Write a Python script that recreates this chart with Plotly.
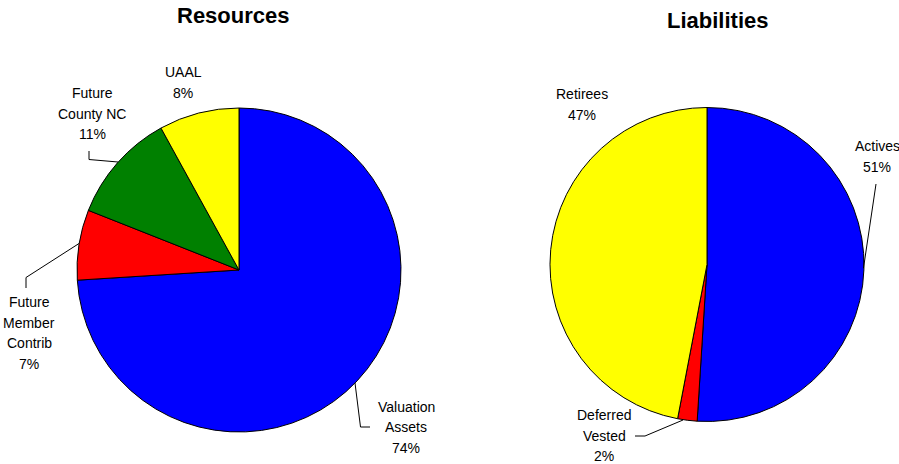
import plotly.graph_objects as go

# ---- data ----
res_labels = ["Valuation\nAssets", "Future\nMember\nContrib", "Future\nCounty NC", "UAAL"]
res_values = [74, 7, 11, 8]
res_colors = ["#0000FF", "#FF0000", "#008000", "#FFFF00"]

liab_labels = ["Actives", "Deferred\nVested", "Retirees"]
liab_values = [51, 2, 47]
liab_colors = ["#0000FF", "#FF0000", "#FFFF00"]

W, H = 899, 464
FONT = "Liberation Sans, Arial, sans-serif"


def px(x):
    return x / W


def py(y):
    return 1 - y / H


fig = go.Figure()

fig.add_trace(go.Pie(
    labels=[l.replace("\n", " ") for l in res_labels], values=res_values,
    sort=False, direction="clockwise", rotation=0,
    marker=dict(colors=res_colors, line=dict(color="black", width=1)),
    textinfo="none", hoverinfo="label+percent", showlegend=False,
    domain=dict(x=[px(77), px(401)], y=[py(432), py(108)]),
))
fig.add_trace(go.Pie(
    labels=[l.replace("\n", " ") for l in liab_labels], values=liab_values,
    sort=False, direction="clockwise", rotation=0,
    marker=dict(colors=liab_colors, line=dict(color="black", width=1)),
    textinfo="none", hoverinfo="label+percent", showlegend=False,
    domain=dict(x=[px(550), px(864)], y=[py(421.5), py(107.5)]),
))

# label placement (layout only): centre x, first-line centre y
res_label_pos = [(406, 406.5), (29, 302), (92, 93), (183, 72)]
liab_label_pos = [(877, 146), (604, 415), (582, 94)]
LINE_GAP = 20.7

annotations = []


def add_labels(labels, values, positions):
    for lab, val, (cx, cy) in zip(labels, values, positions):
        lines = lab.split("\n") + [f"{val}%"]
        for i, t in enumerate(lines):
            annotations.append(dict(
                text=t, x=px(cx), y=py(cy + i * LINE_GAP), xref="paper", yref="paper",
                xanchor="center", yanchor="middle", showarrow=False,
                font=dict(family=FONT, size=14, color="black"),
            ))


add_labels(res_labels, res_values, res_label_pos)
add_labels(liab_labels, liab_values, liab_label_pos)

annotations.append(dict(text="<b>Resources</b>", x=px(234), y=py(15), xref="paper", yref="paper",
                        xanchor="center", yanchor="middle", showarrow=False,
                        font=dict(family=FONT, size=22, color="black")))
annotations.append(dict(text="<b>Liabilities</b>", x=px(717), y=py(20.5), xref="paper", yref="paper",
                        xanchor="center", yanchor="middle", showarrow=False,
                        font=dict(family=FONT, size=22, color="black")))

# leader lines (layout only)
leaders = [
    [(89, 151), (89, 159.5), (118, 162)],
    [(26, 288), (26, 277.5), (79, 243.5)],
    [(355, 383), (360.5, 427), (370, 427)],
    [(876, 184), (863.5, 268)],
    [(635, 436), (645, 436), (683, 420)],
]
shapes = []
for pts in leaders:
    path = "M " + " L ".join(f"{px(x)},{py(y)}" for x, y in pts)
    shapes.append(dict(type="path", path=path, xref="paper", yref="paper",
                       line=dict(color="black", width=1)))

fig.update_layout(
    width=W, height=H,
    margin=dict(l=0, r=0, t=0, b=0),
    paper_bgcolor="white", plot_bgcolor="white",
    annotations=annotations, shapes=shapes,
)

fig.write_html("out.html", config={"displayModeBar": False},
               post_script="document.body.style.margin='0px';document.body.style.overflow='hidden';")
